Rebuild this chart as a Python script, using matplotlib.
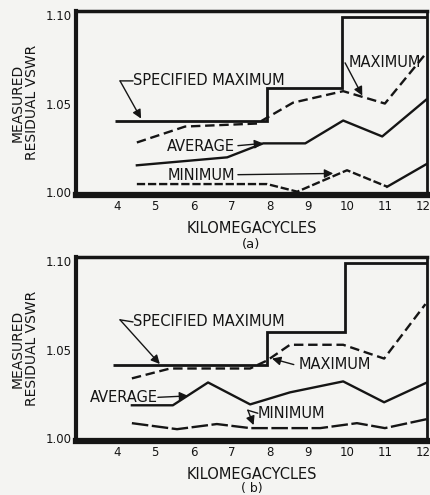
import matplotlib.pyplot as plt

# ---- (a) readings, kMc vs VSWR ----
a_spec_edges = [3.95, 7.92, 9.88, 12.1]
a_spec = [1.040, 1.059, 1.099]

a_max_x = [4.52, 5.78, 7.66, 7.92, 8.60, 9.91, 11.0, 12.08]
a_max_y = [1.028, 1.037, 1.0387, 1.042, 1.0505, 1.057, 1.050, 1.0785]

a_avg_x = [4.52, 6.88, 7.82, 8.92, 9.91, 10.93, 12.08]
a_avg_y = [1.0151, 1.0196, 1.0275, 1.0275, 1.0404, 1.0314, 1.0522]

a_min_x = [4.52, 7.92, 8.71, 10.01, 11.06]
a_min_y = [1.0045, 1.0045, 1.0002, 1.0123, 1.003]
a_min_end_x = [11.06, 12.08]
a_min_end_y = [1.003, 1.0157]

# ---- (b) readings ----
b_spec_edges = [3.90, 7.92, 9.96, 12.1]
b_spec = [1.041, 1.060, 1.099]

b_max_x = [4.39, 5.39, 7.48, 7.92, 8.52, 9.91, 10.98, 12.06]
b_max_y = [1.0337, 1.0393, 1.0393, 1.0438, 1.0527, 1.0527, 1.0449, 1.0757]

b_avg_x = [4.39, 5.46, 6.38, 7.48, 8.52, 9.91, 10.98, 12.1]
b_avg_y = [1.0185, 1.0185, 1.0314, 1.019, 1.0258, 1.032, 1.0202, 1.0314]

b_min_x = [4.39, 5.57, 6.61, 7.48, 9.31, 10.27, 11.0, 12.1]
b_min_y = [1.0084, 1.005, 1.0079, 1.0056, 1.0056, 1.0084, 1.0056, 1.0107]

xticks = [4, 5, 6, 7, 8, 9, 10, 11, 12]
yticks = [1.00, 1.05, 1.10]
ytick_labels = ["1.00", "1.05", "1.10"]

INK = "#151515"
BG = "#f4f4f2"
FS = 10.5

plt.rcParams['font.family'] = ['DejaVu Sans']

fig = plt.figure(figsize=(4.31, 4.95), dpi=100, facecolor=BG)
W, H = 431, 495


def make_axes(top_px, bottom_px):
    ax = fig.add_axes([76 / W, 1 - bottom_px / H, 351 / W, (bottom_px - top_px) / H])
    ax.set_facecolor(BG)
    ax.set_xlim(2.93, 12.1)
    ax.set_ylim(0.9986, 1.1023)
    ax.set_xticks(xticks)
    ax.set_yticks(yticks)
    ax.set_yticklabels(ytick_labels)
    ax.tick_params(length=0, labelsize=8.5, colors=INK, pad=4)
    ax.tick_params(axis='y', pad=3)
    for side, lw in [("left", 3.0), ("bottom", 4.5), ("top", 2.5), ("right", 2.0)]:
        ax.spines[side].set_linewidth(lw)
        ax.spines[side].set_color(INK)
    ax.text(-0.145, 0.5, "MEASURED\nRESIDUAL VSWR", transform=ax.transAxes,
            rotation=90, ha='center', va='center', fontsize=10, color=INK,
            linespacing=1.0)
    ax.text(0.5, -0.185, "KILOMEGACYCLES", transform=ax.transAxes,
            ha='center', va='center', fontsize=FS, color=INK)
    return ax


def label(ax, text, pos, tip, tail=None, corner=None):
    ax.text(pos[0], pos[1], text, ha='left', va='center', fontsize=FS, color=INK)
    start = tail if tail is not None else pos
    if corner is not None:
        ax.annotate("", xy=corner, xytext=pos,
                    arrowprops=dict(arrowstyle='-', color=INK, lw=1.0,
                                    shrinkA=0, shrinkB=0))
        start = corner
    ax.annotate("", xy=tip, xytext=start,
                arrowprops=dict(arrowstyle='-|>', color=INK, lw=1.0,
                                mutation_scale=13, shrinkA=0, shrinkB=0))


# ---------- (a) ----------
ax1 = make_axes(11, 194.5)
ax1.stairs(a_spec, a_spec_edges, baseline=None, color=INK, lw=2.0)
ax1.plot(a_max_x, a_max_y, color=INK, lw=1.7, linestyle=(0, (4, 2)))
ax1.plot(a_avg_x, a_avg_y, color=INK, lw=1.7)
ax1.plot(a_min_x, a_min_y, color=INK, lw=1.7, linestyle=(0, (3.5, 1.2)))
ax1.plot(a_min_end_x, a_min_end_y, color=INK, lw=1.7)

label(ax1, "SPECIFIED MAXIMUM", (4.42, 1.0628), (4.63, 1.0415), corner=(4.08, 1.0628))
label(ax1, "MAXIMUM", (10.04, 1.073), (10.41, 1.0545), tail=(9.96, 1.073))
label(ax1, "AVERAGE", (5.31, 1.0258), (7.82, 1.0275), tail=(7.16, 1.0262))
label(ax1, "MINIMUM", (5.33, 1.0095), (9.65, 1.0105), tail=(7.16, 1.0098))
ax1.text(0.5, -0.275, "(a)", transform=ax1.transAxes, ha='center', va='center',
         fontsize=9.5, color=INK)

# ---------- (b) ----------
ax2 = make_axes(257, 440.5)
ax2.stairs(b_spec, b_spec_edges, baseline=None, color=INK, lw=2.0)
ax2.plot(b_max_x, b_max_y, color=INK, lw=1.7, linestyle=(0, (4, 2)))
ax2.plot(b_avg_x, b_avg_y, color=INK, lw=1.7)
ax2.plot(b_min_x, b_min_y, color=INK, lw=1.7, linestyle=(0, (7, 1.5)))

label(ax2, "SPECIFIED MAXIMUM", (4.42, 1.0656), (5.12, 1.0418), corner=(4.08, 1.0668))
label(ax2, "MAXIMUM", (8.75, 1.0415), (8.05, 1.0449), tail=(8.62, 1.0415))
label(ax2, "AVERAGE", (3.29, 1.023), (5.86, 1.0238), tail=(5.07, 1.023))
label(ax2, "MINIMUM", (7.68, 1.014), (7.57, 1.0073), corner=(7.42, 1.0157))
ax2.text(0.5, -0.262, "( b)", transform=ax2.transAxes, ha='center', va='center',
         fontsize=9, color=INK)

fig.savefig("out.png", dpi=100, facecolor=BG)
